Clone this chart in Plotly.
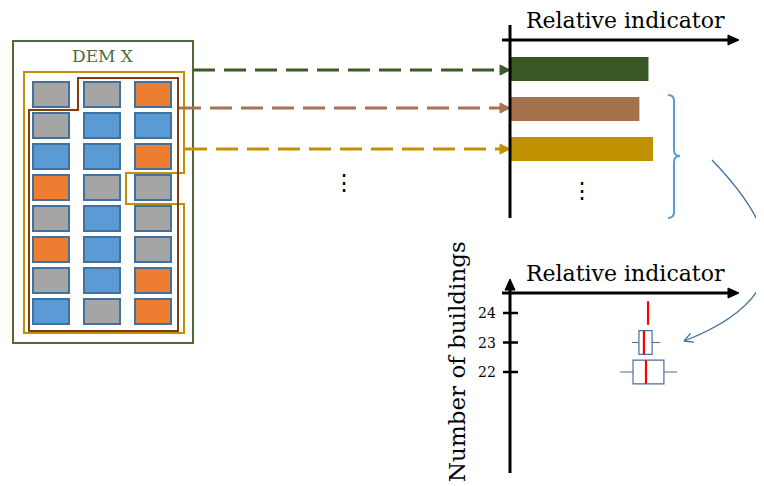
import numpy as np
import plotly.graph_objects as go

W, H = 764, 486
OFF = 8  # page body margin offset

# ---------------- data ----------------
grid_colors = [
    ["gray", "gray", "orange"],
    ["gray", "blue", "blue"],
    ["blue", "blue", "orange"],
    ["orange", "gray", "gray"],
    ["gray", "blue", "gray"],
    ["orange", "blue", "gray"],
    ["gray", "blue", "orange"],
    ["blue", "gray", "orange"],
]
bar_labels = ["DEM X", "subset A", "subset B"]
bar_values = [0.61, 0.57, 0.63]

box_counts = [23, 22]
box_q1 = [0.568, 0.542]
box_median = [0.590, 0.599]
box_q3 = [0.626, 0.678]
box_low = [0.537, 0.485]
box_high = [0.661, 0.736]

median_counts = [24, 23, 22]
median_values = [0.608, 0.590, 0.599]

tick_vals = [22, 23, 24]
tick_text = ["22", "23", "24"]

# ---------------- styles ----------------
fill_map = {"gray": "#a5a5a5", "blue": "#5b9bd5", "orange": "#ed7d31"}
bar_colors = ["#385723", "#a5714c", "#bf9000"]
SERIF = "DejaVu Serif"


def px(p):
    return (p - OFF) / W


def py(p):
    return 1 - (p - OFF) / H


fig = go.Figure()

# bar chart (top right)
fig.add_trace(go.Bar(
    x=bar_values, y=bar_labels, orientation="h", width=0.6,
    marker=dict(color=bar_colors, line=dict(width=0)),
    xaxis="x2", yaxis="y2", showlegend=False))

# box plot (bottom right)
fig.add_trace(go.Box(
    y=box_counts, q1=box_q1, median=box_median, q3=box_q3,
    lowerfence=box_low, upperfence=box_high, orientation="h",
    width=0.8, whiskerwidth=0, boxpoints=False,
    fillcolor="white", line=dict(color="#4a6f9c", width=1.2),
    xaxis="x3", yaxis="y3", showlegend=False))

mx, my = [], []
for c, v in zip(median_counts, median_values):
    mx += [v, v, None]
    my += [c - 0.4, c + 0.4, None]
fig.add_trace(go.Scatter(x=mx, y=my, mode="lines",
                         line=dict(color="#ff0000", width=2.2),
                         xaxis="x3", yaxis="y3", showlegend=False, hoverinfo="skip"))

# dummy trace on the canvas axis
fig.add_trace(go.Scatter(x=[0], y=[0], mode="markers", marker=dict(opacity=0),
                         showlegend=False, hoverinfo="skip"))

shapes = []


def tri(tx, ty, dx, dy, L=10, hw=5, color="black"):
    n = np.hypot(dx, dy)
    ux, uy = dx / n, dy / n
    bx, by = tx - ux * L, ty - uy * L
    qx, qy = -uy, ux
    p = (f"M {tx},{ty} L {bx + qx * hw},{by + qy * hw} "
         f"L {bx - qx * hw},{by - qy * hw} Z")
    return dict(type="path", path=p, xref="x", yref="y",
                fillcolor=color, line=dict(color=color, width=1))


def line(x0, y0, x1, y1, color="black", width=3, dash=None):
    d = dict(type="line", x0=x0, y0=y0, x1=x1, y1=y1, xref="x", yref="y",
             line=dict(color=color, width=width))
    if dash:
        d["line"]["dash"] = dash
    return d


# DEM X frame
shapes.append(dict(type="rect", x0=13, y0=41, x1=193, y1=343, xref="x", yref="y",
                   line=dict(color="#4f6b38", width=2), fillcolor="white", layer="below"))

# buildings grid
for r, row in enumerate(grid_colors):
    for c, col in enumerate(row):
        x0 = 33 + c * 51
        y0 = 82 + r * 31
        shapes.append(dict(type="rect", x0=x0, y0=y0, x1=x0 + 36, y1=y0 + 25,
                           xref="x", yref="y", fillcolor=fill_map[col],
                           line=dict(color="#41719c", width=2)))

# subset outlines
shapes.append(dict(type="path", xref="x", yref="y",
                   path="M 24,72 L 184,72 L 184,173 L 126,173 L 126,204 L 184,204 L 184,333 L 24,333 Z",
                   line=dict(color="#c09000", width=2)))
shapes.append(dict(type="path", xref="x", yref="y",
                   path="M 78,78 L 178,78 L 178,331 L 29,331 L 29,110 L 78,110 Z",
                   line=dict(color="#843c0c", width=2)))

# dashed arrows
shapes.append(line(193, 70, 500, 70, "#3b5a26", 3, "22px,9px"))
shapes.append(tri(510, 70, 1, 0, color="#3b5a26"))
shapes.append(line(179, 108, 500, 108, "#a9714f", 3, "22px,9px"))
shapes.append(tri(510, 108, 1, 0, color="#a9714f"))
shapes.append(line(185, 149, 500, 149, "#c09000", 3, "22px,9px"))
shapes.append(tri(510, 149, 1, 0, color="#c09000"))

# top axes
shapes.append(line(510, 25, 510, 218))
shapes.append(line(502, 40, 729, 40))
shapes.append(tri(739, 40, 1, 0, L=11, hw=5))

# bottom axes
shapes.append(line(510, 473, 510, 289))
shapes.append(tri(510, 279, 0, -1, L=11, hw=5))
shapes.append(line(502, 293, 729, 293))
shapes.append(tri(739, 293, 1, 0, L=11, hw=5))

# ticks on the count axis
for v in tick_vals:
    shapes.append(dict(type="line", xref="paper", yref="y3",
                       x0=px(503), x1=px(518), y0=v, y1=v,
                       line=dict(color="black", width=2.5)))

# brace
shapes.append(dict(type="path", xref="x", yref="y",
                   path=("M 668,95 Q 674,95 674,101 L 674,150 Q 674,156 680,156 "
                         "Q 674,156 674,162 L 674,212 Q 674,218 668,218"),
                   line=dict(color="#5b9bd5", width=2)))

# curved connector arrow
shapes.append(dict(type="path", xref="x", yref="y",
                   path="M 712,160 C 765,215 815,290 684,341",
                   line=dict(color="#41719c", width=1.3)))
tipx, tipy = 684, 341
d = np.array([684 - 815, 341 - 290], dtype=float)
d /= np.linalg.norm(d)
for ang in (np.radians(28), -np.radians(28)):
    rot = np.array([[np.cos(ang), -np.sin(ang)], [np.sin(ang), np.cos(ang)]]) @ (-d)
    shapes.append(dict(type="line", xref="x", yref="y", x0=tipx, y0=tipy,
                       x1=tipx + rot[0] * 10, y1=tipy + rot[1] * 10,
                       line=dict(color="#41719c", width=1.3)))

annotations = [
    dict(x=103, y=56, text="DEM X", font=dict(family=SERIF, size=17, color="#4f6b38")),
    dict(x=625, y=20, text="Relative indicator", font=dict(family=SERIF, size=22, color="black")),
    dict(x=625, y=273, text="Relative indicator", font=dict(family=SERIF, size=22, color="black")),
    dict(x=457, y=362, text="Number of buildings", textangle=-90,
         font=dict(family=SERIF, size=23, color="black")),
    dict(x=344, y=182, text="⋮", font=dict(family=SERIF, size=22, color="black")),
    dict(x=582, y=190, text="⋮", font=dict(family=SERIF, size=22, color="black")),
]
for a in annotations:
    a.update(xref="x", yref="y", showarrow=False, xanchor="center", yanchor="middle")

for v, t in zip(tick_vals, tick_text):
    annotations.append(dict(x=px(498), y=v, xref="paper", yref="y3", text=t,
                            showarrow=False, xanchor="right", yanchor="middle",
                            font=dict(family=SERIF, size=14, color="black")))

fig.update_layout(
    width=W, height=H, margin=dict(l=0, r=0, t=0, b=0),
    paper_bgcolor="white", plot_bgcolor="rgba(0,0,0,0)",
    xaxis=dict(domain=[0, 1], range=[OFF, W + OFF], visible=False, fixedrange=True),
    yaxis=dict(domain=[0, 1], range=[H + OFF, OFF], visible=False, fixedrange=True),
    xaxis2=dict(domain=[px(510), px(737)], range=[0, 1], visible=False, anchor="y2"),
    yaxis2=dict(domain=[py(218), py(40)], range=[3.725, -0.725],
                type="category", visible=False, anchor="x2"),
    xaxis3=dict(domain=[px(510), px(737)], range=[0, 1], visible=False, anchor="y3"),
    yaxis3=dict(domain=[py(473), py(293)], range=[18.576, 24.678],
                type="linear", visible=False, anchor="x3"),
    shapes=shapes, annotations=annotations,
)

fig.write_html("out.html")
